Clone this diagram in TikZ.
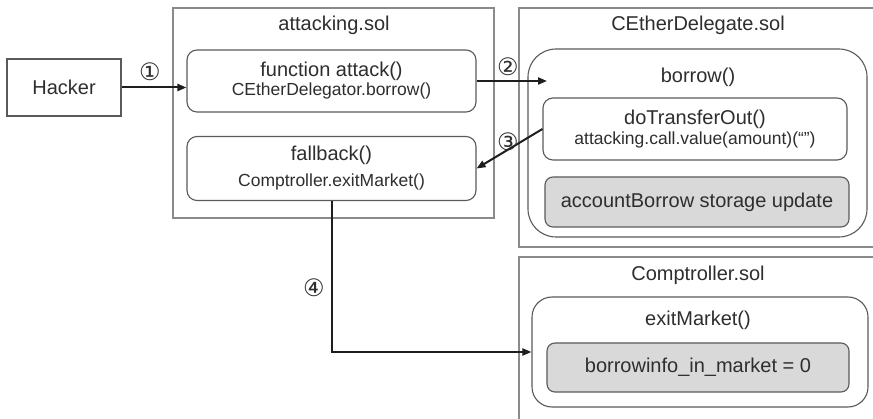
\documentclass[tikz,border=0pt]{standalone}
\usepackage{fontspec}
\setmainfont{Liberation Sans}
\newfontfamily\circfont{DejaVu Sans}
\usetikzlibrary{arrows.meta}
\definecolor{txt}{HTML}{2E2E2E}
\definecolor{fileline}{HTML}{8A8A8A}
\definecolor{boxline}{HTML}{5A5A5A}
\definecolor{shade}{HTML}{D9D9D9}
\definecolor{flow}{HTML}{1E1E1E}
\begin{document}
\begin{tikzpicture}[x=1pt,y=-1pt,
  every node/.style={text=txt, inner sep=0pt},
  bigfont/.style={font=\fontsize{20}{24}\selectfont},
  filebox/.style={draw=fileline, line width=1.1pt, fill=white},
  funcbox/.style={draw=boxline, line width=1.1pt, rounded corners=#1, fill=white},
  funcbox/.default=10pt,
  storebox/.style={draw=boxline, line width=1.1pt, rounded corners=8pt, fill=shade},
  plainbox/.style={draw=boxline, line width=1.1pt},
  flowline/.style={draw=flow, line width=2pt, -{Triangle[length=9pt,width=7pt]}},
  stepnum/.style={font=\circfont\fontsize{24}{26}\selectfont, text=txt}
]
\clip (0,0) rectangle (873,419);
\fill[white] (0,0) rectangle (873,419);

% the attacker
\node[plainbox, bigfont, minimum width=114pt, minimum height=57pt] (hacker) at (64,87.5) {Hacker};

% attacking.sol
\node[filebox, minimum width=321pt, minimum height=210pt] (attfile) at (333.5,113) {};
\node[bigfont] (atttitle) at (334,25) {attacking.sol};
\node[funcbox, bigfont, align=center, minimum width=289pt, minimum height=62pt] (attack) at (331.5,81)
  {function attack()\\[-5pt]{\fontsize{17.5}{20}\selectfont CEtherDelegator.borrow()}};
\node[funcbox, bigfont, align=center, minimum width=289pt, minimum height=64pt] (fallback) at (331.5,168.5)
  {fallback()\\[2pt]{\fontsize{17.5}{20}\selectfont Comptroller.exitMarket()}};

% CEtherDelegate.sol
\node[filebox, minimum width=361pt, minimum height=239pt] (cefile) at (699.5,127.5) {};
\node[bigfont] (cetitle) at (698,25) {CEtherDelegate.sol};
\node[funcbox=28pt, minimum width=339pt, minimum height=188pt] (borrow) at (697.5,143) {};
\node[bigfont] (borrowlbl) at (698,77) {borrow()};
\node[funcbox, bigfont, align=center, minimum width=304pt, minimum height=62pt] (transfer) at (695,129)
  {doTransferOut()\\[-4pt]{\fontsize{17.5}{20}\selectfont attacking.call.value(amount)(“”)}};
\node[storebox, bigfont, minimum width=304pt, minimum height=50pt] (acctupd) at (697,202)
  {accountBorrow storage update};

% Comptroller.sol
\node[filebox, minimum width=361pt, minimum height=180pt] (compfile) at (699.5,347) {};
\node[bigfont] (comptitle) at (698,275) {Comptroller.sol};
\node[funcbox=20pt, minimum width=336pt, minimum height=110pt] (exitm) at (700,352) {};
\node[bigfont] (exitlbl) at (698,320) {exitMarket()};
\node[storebox, bigfont, minimum width=302pt, minimum height=49pt] (bset) at (698,367.5)
  {borrowinfo\_in\_market = 0};

% call flow
\coordinate (borrowin) at (547,81);
\draw[flowline] (hacker.east) -- (hacker.east -| attack.west);
\draw[flowline] (attack.east) -- (borrowin);
\draw[flowline] (transfer.west) -- (fallback.east);
\draw[flowline] (fallback.south) |- (exitm.west);

\node[stepnum] (n1) at (150,72) {①};
\node[stepnum] (n2) at (508,67) {②};
\node[stepnum] (n3) at (508,142) {③};
\node[stepnum] (n4) at (314,288) {④};
\end{tikzpicture}
\end{document}
